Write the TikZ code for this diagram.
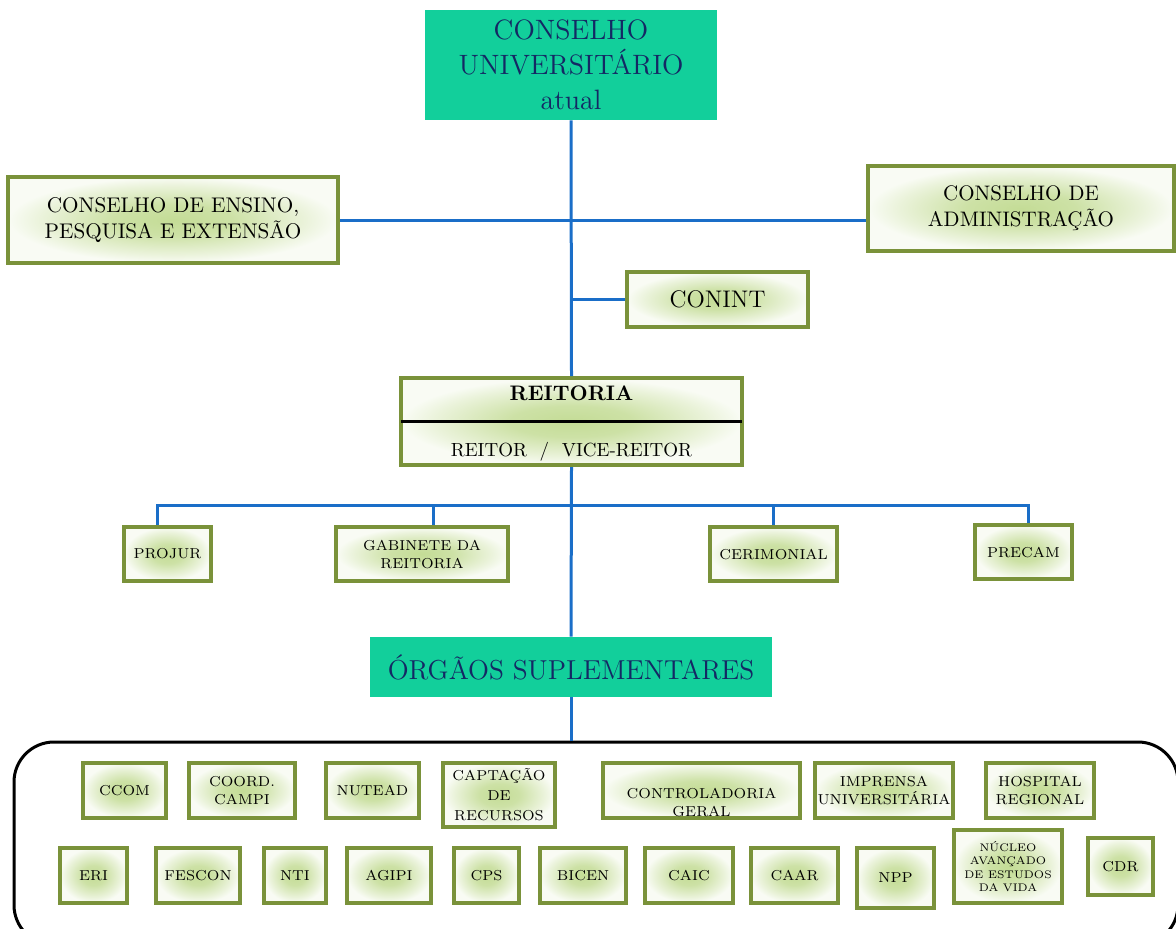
\documentclass[tikz,border=0pt]{standalone}
\usepackage{xcolor}
\usepackage{tikz}
\usetikzlibrary{calc}

\definecolor{bordaverde}{RGB}{122,146,58}
\definecolor{verdeclaro}{RGB}{196,220,150}
\definecolor{verdeagua}{RGB}{18,207,155}
\definecolor{azultexto}{RGB}{20,40,100}
\definecolor{azullinha}{RGB}{26,110,200}
\pgfdeclareradialshading{fundocaixa}{\pgfpoint{0bp}{0bp}}{%
	color(0bp)=(verdeclaro); color(9bp)=(verdeclaro!85!white);
	color(20bp)=(verdeclaro!35!white); color(25bp)=(verdeclaro!10!white);
	color(50bp)=(verdeclaro!10!white)}

\begin{document}
\begin{tikzpicture}[x=0.5pt, y=-0.5pt,
							caixa/.style={draw=bordaverde, line width=2pt, shading=fundocaixa,
								align=center, inner sep=1pt, font=\fontsize{7.2}{9}\selectfont},
							conselho/.style={fill=verdeagua, text=azultexto, align=center, inner sep=1pt},
							linha/.style={draw=azullinha, line width=1.5pt}]
			\useasboundingbox (0,0) rectangle (1176,928);
			% conselhos
			\node[conselho, minimum width=146pt, minimum height=55pt,
				font=\fontsize{14}{17.5}\selectfont] (cu) at (571,65) {CONSELHO\\UNIVERSITÁRIO\\atual};
			\node[caixa, minimum width=165pt, minimum height=43pt,
				font=\fontsize{10.6}{13}\selectfont] (ceps) at (173,220) {CONSELHO DE ENSINO,\\PESQUISA E EXTENSÃO};
			\node[caixa, minimum width=153pt, minimum height=42.5pt,
				font=\fontsize{10.5}{13}\selectfont] (cadm) at (1021,208.5) {CONSELHO DE\\ADMINISTRAÇÃO};
			\node[caixa, minimum width=90.5pt, minimum height=27.5pt,
				font=\fontsize{12}{14}\selectfont] (conint) at (717.5,299.5) {CONINT};
			% reitoria
			\node[caixa, minimum width=170.5pt, minimum height=43.5pt] (reit) at (571.5,421.5) {};
			\node[font=\fontsize{10.5}{12}\selectfont\bfseries] (reittit) at (571.5,393) {REITORIA};
			\node[font=\fontsize{9.5}{11}\selectfont] (reitnome) at (571.5,452) {REITOR \ / \ VICE-REITOR};
			\draw[line width=1.5pt, shorten <=1pt, shorten >=1pt] (reit.west) -- (reit.east);
			% assessorias
			\node[caixa, minimum width=43.5pt, minimum height=27pt] (projur) at (167.5,554) {PROJUR};
			\node[caixa, minimum width=86pt, minimum height=27pt] (gab) at (422,554) {GABINETE DA\\REITORIA};
			\node[caixa, minimum width=63.5pt, minimum height=27pt] (cer) at (773.5,554) {CERIMONIAL};
			\node[caixa, minimum width=48.5pt, minimum height=27pt] (precam) at (1023.5,552) {PRECAM};
			% suplementares
			\node[conselho, minimum width=201pt, minimum height=30pt,
				font=\fontsize{13.7}{16}\selectfont] (org) at (571,667) {ÓRGÃOS SUPLEMENTARES};
			\node[draw, line width=1.5pt, rounded corners=20pt, minimum width=582pt,
				minimum height=101.5pt] (moldura) at (596,843.5) {};
			\node[caixa, minimum width=41.5pt, minimum height=27.5pt] (ccom) at (124.5,790.5) {CCOM};
			\node[caixa, minimum width=53pt, minimum height=27.5pt] (coord) at (242,790.5) {COORD.\\CAMPI};
			\node[caixa, minimum width=46.5pt, minimum height=27.5pt] (nutead) at (372.5,790.5) {NUTEAD};
			\node[caixa, minimum width=56pt, minimum height=32pt,
				font=\fontsize{7.2}{10}\selectfont] (capt) at (499,795) {CAPTAÇÃO\\DE\\RECURSOS};
			\node[caixa, minimum width=98.5pt, minimum height=27.5pt] (contr) at (701.5,790.5) {};
			\node[align=center, font=\fontsize{7.2}{9}\selectfont] (contrtxt) at (701.5,802) {CONTROLADORIA\\GERAL};
			\node[caixa, minimum width=69pt, minimum height=27.5pt] (impr) at (884,790.5) {IMPRENSA\\UNIVERSITÁRIA};
			\node[caixa, minimum width=54pt, minimum height=27.5pt] (hosp) at (1040,790.5) {HOSPITAL\\REGIONAL};
			\node[caixa, minimum width=33.5pt, minimum height=27.5pt] (eri) at (93.5,875.5) {ERI};
			\node[caixa, minimum width=42pt, minimum height=27.5pt] (fescon) at (198,875.5) {FESCON};
			\node[caixa, minimum width=31pt, minimum height=27.5pt] (nti) at (295,875.5) {NTI};
			\node[caixa, minimum width=42pt, minimum height=27.5pt] (agipi) at (389,875.5) {AGIPI};
			\node[caixa, minimum width=32.5pt, minimum height=27.5pt] (cps) at (486.5,875.5) {CPS};
			\node[caixa, minimum width=43pt, minimum height=27.5pt] (bicen) at (583,875.5) {BICEN};
			\node[caixa, minimum width=44pt, minimum height=27.5pt] (caic) at (689,875.5) {CAIC};
			\node[caixa, minimum width=43.5pt, minimum height=27.5pt] (caar) at (794.5,875.5) {CAAR};
			\node[caixa, minimum width=38.5pt, minimum height=30pt] (npp) at (895.5,878) {NPP};
			\node[caixa, minimum width=54pt, minimum height=36.5pt,
				font=\fontsize{5.5}{6.8}\selectfont] (nucleo) at (1008,866.5) {NÚCLEO\\AVANÇADO\\DE ESTUDOS\\DA VIDA};
			\node[caixa, minimum width=32.5pt, minimum height=28.5pt] (cdr) at (1120.5,866.5) {CDR};
			% ligacoes
			\coordinate (barra) at (571,505);
			\draw[linha] (cu.south) -- (reit.north);
			\draw[linha] (ceps.east) -- (ceps.east -| cadm.west);
			\draw[linha] (conint.west) -- (conint.west -| cu.south);
			\draw[linha] (reit.south) -- (org.north);
			\draw[linha] ([xshift=-5pt]projur.north) |- (barra);
			\draw[linha] ([xshift=5.5pt]gab.north) |- (barra);
			\draw[linha] (cer.north) |- (barra);
			\draw[linha] ([xshift=2.5pt]precam.north) |- (barra);
			\draw[linha] (org.south) -- (org.south |- moldura.north);
		\end{tikzpicture}
\end{document}
